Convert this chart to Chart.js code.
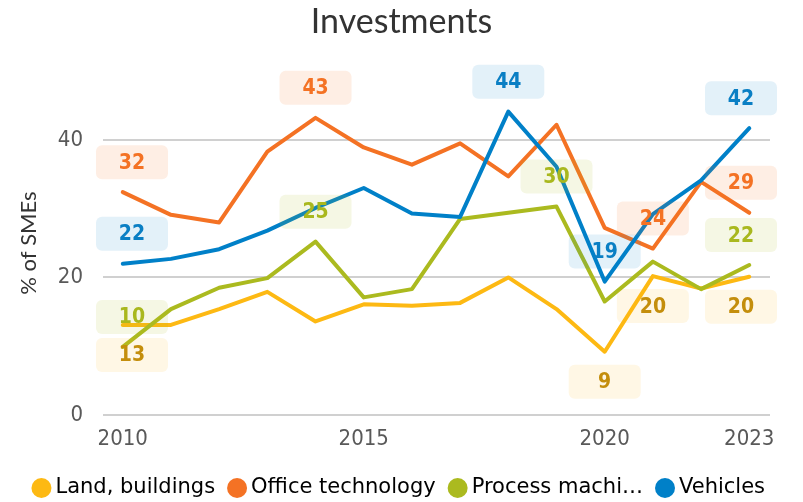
<!DOCTYPE html>
<html><head><meta charset="utf-8">
<style>html,body{margin:0;padding:0;background:#fff}</style>
<script src="https://cdn.jsdelivr.net/npm/chart.js@4/dist/chart.umd.min.js"></script>
</head><body>
<canvas id="c" width="803" height="502" style="display:block;width:803px;height:502px"></canvas>
<script>
const years = [2010,2011,2012,2013,2014,2015,2016,2017,2018,2019,2020,2021,2022,2023];
const landBuildings    = [13.1,13.1,15.4,17.9,13.6,16.1,15.9,16.3,20.0,15.4,9.2,20.2,18.4,20.1];
const officeTechnology = [32.4,29.1,28.0,38.3,43.2,38.9,36.4,39.5,34.7,42.2,27.2,24.2,33.9,29.4];
const processMachinery = [9.9,15.4,18.5,19.9,25.2,17.1,18.3,28.5,29.4,30.3,16.5,22.3,18.3,21.8];
const vehicles         = [22.0,22.7,24.1,26.8,30.1,33.0,29.3,28.8,44.1,36.1,19.4,29.2,34.1,41.7];
const seriesNames = ['Land, buildings','Office technology','Process machinery','Vehicles'];
const xTicks = [2010,2015,2020,2023];
const yTicks = [0,20,40];
// indices of the points that carry a value label
const landLabelIdx = [0,10,11,13];
const officeLabelIdx = [0,4,11,13];
const processLabelIdx = [0,4,9,13];
const vehiclesLabelIdx = [0,8,10,13];

const FONT_C = "'DejaVu Sans Condensed', 'DejaVu Sans', sans-serif";
const FONT_L = "'DejaVu Sans', sans-serif";
Chart.defaults.font.family = FONT_C;

function pts(vals){ return vals.map((v,i)=>({x: years[i], y: v})); }
function mk(name, vals, color, labelColor, labelBg, idx, below, order){
  return { label: name, data: pts(vals), borderColor: color, backgroundColor: color,
    borderWidth: 4, pointRadius: 0, pointHoverRadius: 0, tension: 0, fill: false,
    order: order, labelIdx: idx, labelBelow: below, labelColor: labelColor, labelBg: labelBg,
    borderJoinStyle: 'round', borderCapStyle: 'round' };
}

const labelPlugin = {
  id: 'pointLabels',
  afterDatasetsDraw(chart){
    const ctx = chart.ctx, ca = chart.chartArea;
    ctx.save();
    const w = 72, h = 34;
    chart.data.datasets.forEach((ds, di) => {
      const meta = chart.getDatasetMeta(di);
      ds.labelIdx.forEach(idx => {
        const el = meta.data[idx];
        let cx = el.x;
        const cy = ds.labelBelow ? el.y + 30 : el.y - 30;
        cx = Math.min(Math.max(cx, ca.left - 7 + w/2), ca.right + 7 - w/2);
        ctx.fillStyle = ds.labelBg;
        ctx.beginPath();
        ctx.roundRect(cx - w/2, cy - h/2, w, h, 6);
        ctx.fill();
        ctx.fillStyle = ds.labelColor;
        ctx.font = "bold 21px " + FONT_C;
        ctx.textAlign = 'center';
        ctx.textBaseline = 'middle';
        ctx.fillText(String(Math.round(ds.data[idx].y)), cx, cy + 1);
      });
    });
    ctx.restore();
  }
};

// truncate a too-long legend text with an ellipsis, like the original legend does
const measureCtx = document.createElement('canvas').getContext('2d');
function fitText(t, maxW, targetW, font){
  measureCtx.font = font;
  if (measureCtx.measureText(t).width <= maxW) return t;
  let s = t;
  while (s.length > 1 && measureCtx.measureText(s + '…').width > targetW) s = s.slice(0, -1);
  return s.trimEnd() + '…';
}

const legendPad = 18.5;
const legendSize = 21;

new Chart(document.getElementById('c'), {
  type: 'line',
  data: {
    datasets: [
      mk(seriesNames[0], landBuildings, '#FDB913', '#C48E0C', 'rgba(253,185,19,0.11)', landLabelIdx, true, 3),
      mk(seriesNames[1], officeTechnology, '#F47224', '#F47224', 'rgba(244,114,36,0.12)', officeLabelIdx, false, 2),
      mk(seriesNames[2], processMachinery, '#ABBA1F', '#A9B81E', 'rgba(171,186,31,0.12)', processLabelIdx, false, 1),
      mk(seriesNames[3], vehicles, '#0080C8', '#0A7FC4', 'rgba(0,128,200,0.11)', vehiclesLabelIdx, false, 0)
    ]
  },
  options: {
    responsive: false,
    animation: false,
    devicePixelRatio: 1,
    layout: { padding: { left: 0, right: 0, top: 0, bottom: -6.5 } },
    plugins: {
      tooltip: { enabled: false },
      title: { display: true, text: 'Investments', color: '#333333',
        font: { family: 'Lato', size: 34, weight: 'normal' }, padding: { top: 1.6, bottom: 28.7 } },
      legend: {
        position: 'bottom',
        labels: {
          usePointStyle: true, pointStyle: 'circle', boxWidth: 7, boxHeight: 14.14,
          padding: legendPad, color: '#1e1e1e', font: { family: FONT_L, size: legendSize },
          generateLabels: chart => chart.data.datasets.map((ds, i) => ({
            text: fitText(ds.label, 192, 176, legendSize + "px " + FONT_L),
            fillStyle: ds.borderColor, strokeStyle: ds.borderColor, lineWidth: 0,
            pointStyle: 'circle', datasetIndex: i, hidden: false
          }))
        }
      }
    },
    scales: {
      x: {
        type: 'linear', min: 2009.59, max: 2023.43,
        afterBuildTicks: s => { s.ticks = xTicks.map(v => ({ value: v })); },
        afterFit: s => { s.height = 62.5 - legendPad; s.paddingLeft = 0; s.paddingRight = 33; },
        grid: { display: false, drawTicks: false },
        border: { display: false },
        ticks: { padding: 11, color: '#595959', font: { size: 22 }, maxRotation: 0, autoSkip: false,
          callback: v => String(v) }
      },
      y: {
        min: 0, max: 50,
        afterBuildTicks: s => { s.ticks = yTicks.map(v => ({ value: v })); },
        afterFit: s => { s.width = 103; s.paddingTop = 0; s.paddingBottom = 0; },
        grid: { color: '#d0d0d0', lineWidth: 2, drawTicks: false },
        border: { display: false },
        ticks: { padding: 20, color: '#595959', font: { size: 22 } },
        title: { display: true, text: '% of SMEs', color: '#333333',
          font: { family: 'Lato', size: 22 }, padding: { top: 16, bottom: 0 } }
      }
    }
  },
  plugins: [labelPlugin]
});
</script>
</body></html>
